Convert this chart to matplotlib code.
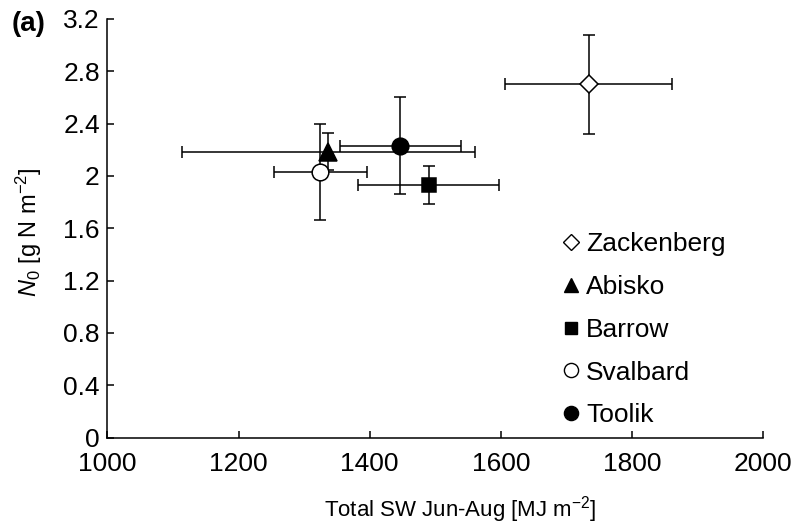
import matplotlib.pyplot as plt
from matplotlib.lines import Line2D

plt.rcParams['font.family'] = ['Liberation Sans', 'DejaVu Sans']
plt.rcParams['mathtext.fontset'] = 'custom'
plt.rcParams['mathtext.rm'] = 'Liberation Sans'
plt.rcParams['mathtext.it'] = 'Liberation Sans:italic'

sites = ['Zackenberg', 'Abisko', 'Barrow', 'Svalbard', 'Toolik']
sw = [1734, 1337, 1490, 1325, 1447]
sw_err = [127, 223, 108, 71, 92]
n0 = [2.70, 2.185, 1.93, 2.03, 2.23]
n0_err = [0.38, 0.14, 0.143, 0.37, 0.37]

x_ticks = [1000, 1200, 1400, 1600, 1800, 2000]
y_ticks = [0, 0.4, 0.8, 1.2, 1.6, 2, 2.4, 2.8, 3.2]
y_labels = ['0', '0.4', '0.8', '1.2', '1.6', '2', '2.4', '2.8', '3.2']

markers = ['D', '^', 's', 'o', 'o']
faces = ['white', 'black', 'black', 'white', 'black']
sizes = [9, 12.5, 9.5, 12, 12]

fig = plt.figure(figsize=(7.96, 5.27), dpi=100)
ax = fig.add_axes([0.135, 0.1695, 0.8235, 0.7945])

for i in range(len(sites)):
    ax.errorbar(sw[i], n0[i], xerr=sw_err[i], yerr=n0_err[i], fmt='none',
                ecolor='black', elinewidth=1.1, capsize=4, capthick=1.1, zorder=2)
for i in range(len(sites)):
    ax.plot(sw[i], n0[i], marker=markers[i], ms=sizes[i], mfc=faces[i],
            mec='black', mew=1.1, ls='none', zorder=3)

# leyenda solo con marcadores
handles = [Line2D([], [], marker=markers[i], ms=sizes[i] * 0.85, mfc=faces[i],
                  mec='black', mew=1.0, ls='none') for i in range(len(sites))]
ax.legend(handles, sites, loc='upper left', bbox_to_anchor=(0.66, 0.547),
          frameon=False, fontsize=19, handlelength=0.55, handletextpad=0.3,
          labelspacing=0.71)

ax.set_xlim(1000, 2000)
ax.set_ylim(0, 3.2)
ax.set_xticks(x_ticks)
ax.set_yticks(y_ticks)
ax.set_yticklabels(y_labels)
ax.tick_params(direction='in', length=5, width=1.1, labelsize=19)
ax.tick_params(axis='x', pad=10)
ax.tick_params(axis='y', pad=5.5)
ax.spines['top'].set_visible(False)
ax.spines['right'].set_visible(False)
ax.spines['left'].set_linewidth(1.1)
ax.spines['bottom'].set_linewidth(1.1)

ax.set_xlabel('Total SW Jun-Aug [MJ m$^{-2}$]', fontsize=16)
ax.xaxis.set_label_coords(0.538, -0.134)
ax.set_ylabel(r'$\mathit{N}_{\rm 0}$ [g N m$^{-2}$]', fontsize=17)
ax.yaxis.set_label_coords(-0.097, 0.491)
fig.text(0.015, 0.954, '(a)', fontsize=20, fontweight='bold', va='center')

plt.savefig('out.png', dpi=100)
plt.close()
